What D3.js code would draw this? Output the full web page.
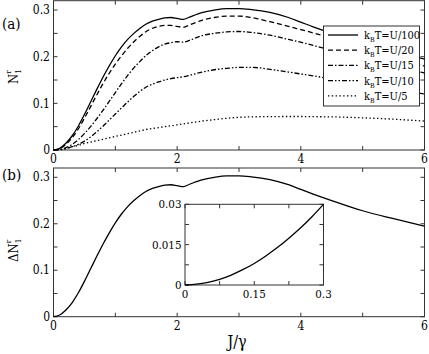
<!DOCTYPE html>
<html>
<head>
<meta charset="utf-8">
<script src="https://cdn.jsdelivr.net/npm/d3@7"></script>
<style>
  body { margin: 0; background: #fff; }
  svg { display: block; }
</style>
</head>
<body>
<svg font-family="'DejaVu Serif Condensed', 'DejaVu Serif', serif"></svg>
<script>
let width = 429, height = 354;

// J/gamma sampling used by every curve
let jx = [0,0.1,0.2,0.3,0.4,0.5,0.6,0.7,0.8,0.9,1.0,1.1,1.2,1.3,1.4,1.5,1.6,1.7,1.8,1.9,
  2.0,2.1,2.2,2.4,2.6,2.8,3.0,3.2,3.5,3.8,4.0,4.2,4.5,5.0,5.5,6.0];

// N1^r for each temperature (panel a)
let nU100 = [0,0.0036,0.0145,0.03,0.051,0.076,0.103,0.13,0.156,0.18,0.202,0.221,0.237,0.25,0.261,0.270,0.276,0.280,0.283,0.284,
  0.282,0.280,0.285,0.2945,0.300,0.303,0.303,0.301,0.295,0.284,0.274,0.264,0.250,0.228,0.211,0.195];
let nU20 = [0,0.003,0.012,0.026,0.045,0.068,0.093,0.118,0.142,0.164,0.184,0.202,0.218,0.232,0.244,0.254,0.261,0.265,0.267,0.267,
  0.265,0.263,0.268,0.278,0.284,0.287,0.287,0.284,0.275,0.265,0.258,0.251,0.24,0.219,0.199,0.18];
let nU15 = [0,0.001,0.005,0.012,0.022,0.035,0.05,0.067,0.085,0.104,0.123,0.142,0.16,0.176,0.19,0.203,0.213,0.221,0.227,0.23,
  0.232,0.231,0.235,0.245,0.25,0.253,0.254,0.252,0.246,0.237,0.231,0.224,0.214,0.198,0.181,0.165];
let nU10 = [0,0.001,0.003,0.007,0.012,0.019,0.028,0.039,0.051,0.064,0.077,0.09,0.103,0.115,0.126,0.135,0.141,0.146,0.15,0.153,
  0.155,0.157,0.16,0.167,0.172,0.175,0.177,0.177,0.173,0.167,0.163,0.159,0.152,0.141,0.13,0.12];
let nU5 = [0,0.0005,0.003,0.007,0.01,0.014,0.017,0.02,0.023,0.026,0.029,0.032,0.035,0.038,0.041,0.044,0.046,0.048,0.05,0.052,
  0.054,0.056,0.058,0.062,0.065,0.068,0.07,0.071,0.0715,0.0718,0.0718,0.0714,0.071,0.069,0.066,0.062];

// Delta N1^r (panel b) and the small-J inset
let deltaN = nU100;
let insetX = [0,0.025,0.05,0.075,0.1,0.125,0.15,0.175,0.2,0.225,0.25,0.275,0.3];
let insetY = [0,0.0003,0.001,0.0021,0.0037,0.0057,0.008,0.0108,0.0139,0.0174,0.0212,0.0254,0.03];

let legendLabels = ["U/100", "U/20", "U/15", "U/10", "U/5"];
let seriesA = [nU100, nU20, nU15, nU10, nU5];
let dashes = [null, "5,3", "5,2,1.5,2", "5,2,1.5,2,1.5,2", "1.4,2.4"];

let xTicks = [0,2,4,6], yTicks = [0,0.1,0.2,0.3];
let insetXTicks = [0,0.15,0.3], insetYTicks = [0,0.015,0.03];

let svg = d3.select("svg").attr("width", width).attr("height", height);

let x = d3.scaleLinear().domain([0,6]).range([53.5,424.5]);
let yA = d3.scaleLinear().domain([0,0.32]).range([150,0.7]);
let yB = d3.scaleLinear().domain([0,0.32]).range([316.7,168]);
let xi = d3.scaleLinear().domain([0,0.3]).range([185,323.5]);
let yi = d3.scaleLinear().domain([0,0.03]).range([285,204.3]);

//Caja con marcas hacia dentro en los cuatro lados
function frame(g, xs, ys, xt, yt, xMinor, yMinor, fs) {
  let [x0,x1] = xs.range(), [y0,y1] = ys.range();
  g.append("rect").attr("x",x0).attr("y",y1).attr("width",x1-x0).attr("height",y0-y1)
    .attr("fill","#fff").attr("stroke","#333").attr("stroke-width",1);
  let tk = 4;
  xMinor.forEach(v => {
    g.append("line").attr("x1",xs(v)).attr("x2",xs(v)).attr("y1",y0).attr("y2",y0-tk).attr("stroke","#333");
    g.append("line").attr("x1",xs(v)).attr("x2",xs(v)).attr("y1",y1).attr("y2",y1+tk).attr("stroke","#333");
  });
  yMinor.forEach(v => {
    g.append("line").attr("y1",ys(v)).attr("y2",ys(v)).attr("x1",x0).attr("x2",x0+tk).attr("stroke","#333");
    g.append("line").attr("y1",ys(v)).attr("y2",ys(v)).attr("x1",x1).attr("x2",x1-tk).attr("stroke","#333");
  });
  xt.forEach(v => {
    g.append("text").attr("x",xs(v)).attr("y",y0+13).attr("text-anchor","middle")
      .attr("font-size",fs).text(v);
  });
  yt.forEach(v => {
    g.append("text").attr("x",x0-3.5).attr("y",ys(v)).attr("dy","0.35em").attr("text-anchor","end")
      .attr("font-size",fs).text(v);
  });
}

let majX = d3.range(0,6.01,1);
let minY = d3.range(0,0.321,0.05);

// panel (a)
let gA = svg.append("g");
frame(gA, x, yA, xTicks, yTicks, majX, minY, 12);
let line = d3.line().curve(d3.curveMonotoneX);
seriesA.forEach((s,i) => {
  gA.append("path")
    .attr("d", line(jx.map((d,k) => [x(d), yA(s[k])])))
    .attr("fill","none").attr("stroke","#000").attr("stroke-width",1.3)
    .attr("stroke-dasharray", dashes[i]);
});

// legend
let lg = gA.append("g");
lg.append("rect").attr("x",323.5).attr("y",26).attr("width",96).attr("height",80)
  .attr("fill","#fff").attr("stroke","#333");
legendLabels.forEach((l,i) => {
  let yy = 35 + i*15.2;
  lg.append("line").attr("x1",328).attr("x2",358).attr("y1",yy).attr("y2",yy)
    .attr("stroke","#000").attr("stroke-width",1.3).attr("stroke-dasharray",dashes[i]);
  let t = lg.append("text").attr("x",364).attr("y",yy+4).attr("font-size",11);
  t.append("tspan").text("k");
  t.append("tspan").attr("font-size",7).attr("dy",3).text("B");
  t.append("tspan").attr("dy",-3).text("T=" + l);
});

// panel (b)
let gB = svg.append("g");
frame(gB, x, yB, xTicks, yTicks, majX, minY, 12);
gB.append("path")
  .attr("d", line(jx.map((d,k) => [x(d), yB(deltaN[k])])))
  .attr("fill","none").attr("stroke","#000").attr("stroke-width",1.3);

// inset
let gI = svg.append("g");
frame(gI, xi, yi, insetXTicks, insetYTicks, d3.range(0,0.301,0.075), d3.range(0,0.0301,0.0075), 11.5);
gI.append("path")
  .attr("d", line(insetX.map((d,k) => [xi(d), yi(insetY[k])])))
  .attr("fill","none").attr("stroke","#000").attr("stroke-width",1.3);

// etiquetas
svg.append("text").attr("x",2).attr("y",29).attr("font-size",15).text("(a)");
svg.append("text").attr("x",2).attr("y",180).attr("font-size",15).text("(b)");

let ta = svg.append("text").attr("transform","translate(18,84) rotate(-90)").attr("font-size",13);
ta.append("tspan").text("N");
ta.append("tspan").attr("font-size",8).attr("dy",3).text("1");
ta.append("tspan").attr("font-size",8).attr("dx",-4.5).attr("dy",-10).text("r");

let tb = svg.append("text").attr("transform","translate(18,262) rotate(-90)").attr("font-size",13);
tb.append("tspan").text("ΔN");
tb.append("tspan").attr("font-size",8).attr("dy",3).text("1");
tb.append("tspan").attr("font-size",8).attr("dx",-4.5).attr("dy",-10).text("r");

svg.append("text").attr("x",237).attr("y",347).attr("text-anchor","middle")
  .attr("font-size",16).text("J/γ");
</script>
</body>
</html>
